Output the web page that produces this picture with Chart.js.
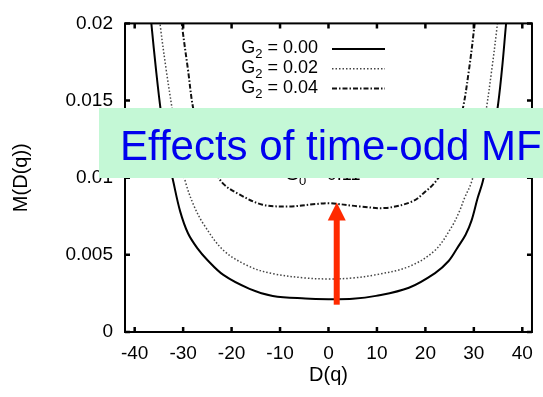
<!DOCTYPE html>
<html><head><meta charset="utf-8">
<script src="https://cdn.jsdelivr.net/npm/chart.js@4/dist/chart.umd.min.js"></script>
<style>html,body{margin:0;padding:0;background:#fff;}#wrap{width:543px;height:397px;}</style>
</head><body><div id="wrap"><canvas id="c" width="543" height="397"></canvas></div>
<script>
// ---- data ----
const xTicks = [-40, -30, -20, -10, 0, 10, 20, 30, 40];
const yTickValues = [0, 0.005, 0.01, 0.015, 0.02];
const yTickLabels = ['0', '0.005', '0.01', '0.015', '0.02'];
const g2Values = ['0.00', '0.02', '0.04'];

const g000X = [-37.0,-36.5,-35.6,-34.6,-33.4,-32.0,-30.6,-29.0,-27.0,-25.1,-21.7,-16.3,-11.5,-4.8,0,5,9.8,16.6,22,24.8,26.7,28.3,29.5,30.8,31.8,33.3,34.8,35.8,36.6,37.1];
const g000Y = [0.0215,0.0198,0.0170,0.0143,0.0118,0.0097,0.0078,0.0064,0.0054,0.0047,0.0037,0.0028,0.00234,0.00217,0.00213,0.00215,0.00234,0.00287,0.00382,0.0046,0.0055,0.0063,0.0072,0.0087,0.0097,0.0118,0.0143,0.0170,0.0198,0.0215];

const g002X = [-35.2,-34.7,-33.5,-32.2,-31.0,-29.5,-27.8,-25.8,-21.7,-16.3,-11.5,-4.8,0,5,9.8,16.6,22,25.4,27.0,28.1,29.5,31.1,32.5,33.7,34.8,35.3];
const g002Y = [0.0215,0.0198,0.0170,0.0143,0.0118,0.0097,0.0082,0.0070,0.0053,0.00424,0.00378,0.0035,0.00344,0.0035,0.00371,0.00424,0.0053,0.0068,0.0078,0.0087,0.0097,0.0118,0.0143,0.0170,0.0198,0.0215];

const g004X = [-30.7,-30.2,-29.0,-27.8,-25.5,-23.5,-21.7,-18.3,-13.6,-8.1,-2.7,0,6.4,11.8,17.3,20,22,23.8,25.3,27.6,29.0,30.1,30.6];
const g004Y = [0.0215,0.0198,0.0170,0.0143,0.0118,0.0105,0.0096,0.0089,0.00825,0.00814,0.00829,0.00835,0.00814,0.00804,0.00846,0.0091,0.0097,0.0106,0.0118,0.0143,0.0170,0.0198,0.0215];

const g0Label = '0.11';
const bannerText = 'Effects of time-odd MF';
const arrowX = 1.7, arrowFrom = 0.00177, arrowTo = 0.0084;

// ---- chart ----
const FONT = "'Liberation Sans', Arial, sans-serif";
const pts = (xs, ys) => xs.map((v, i) => ({x: v, y: ys[i]}));
const styles = [
  {borderColor: '#000', borderWidth: 2, borderDash: []},
  {borderColor: '#444', borderWidth: 1.5, borderDash: [1.5, 2]},
  {borderColor: '#111', borderWidth: 2, borderDash: [5, 2, 1.5, 2]}
];

const decor = {
  id: 'decor',
  afterDraw(chart) {
    const {ctx, chartArea: a, scales: {x, y}} = chart;
    ctx.save();
    // frame
    ctx.strokeStyle = '#000';
    ctx.lineWidth = 2;
    ctx.strokeRect(a.left, a.top, a.right - a.left, a.bottom - a.top);
    // inward ticks
    ctx.lineWidth = 2.5;
    ctx.beginPath();
    xTicks.forEach(v => {
      const px = x.getPixelForValue(v);
      ctx.moveTo(px, a.bottom); ctx.lineTo(px, a.bottom - 5);
      ctx.moveTo(px, a.top); ctx.lineTo(px, a.top + 5);
    });
    yTickValues.forEach(v => {
      const py = y.getPixelForValue(v);
      ctx.moveTo(a.left, py); ctx.lineTo(a.left + 5, py);
      ctx.moveTo(a.right, py); ctx.lineTo(a.right - 5, py);
    });
    ctx.stroke();

    // legend
    const textRight = 318, lineL = 332, lineR = 385;
    g2Values.forEach((val, i) => {
      const base = 53.3 + i * 19.7;
      ctx.fillStyle = '#000';
      ctx.textBaseline = 'alphabetic';
      ctx.textAlign = 'left';
      ctx.font = '18px ' + FONT;
      const rest = ' = ' + val;
      const wG = ctx.measureText('G').width;
      const wR = ctx.measureText(rest).width;
      ctx.font = '13px ' + FONT;
      const wS = ctx.measureText('2').width;
      let tx = textRight - wR - wS - wG;
      ctx.font = '18px ' + FONT;
      ctx.fillText('G', tx, base);
      ctx.font = '13px ' + FONT;
      ctx.fillText('2', tx + wG, base + 5);
      ctx.font = '18px ' + FONT;
      ctx.fillText(rest, tx + wG + wS, base);
      // sample line
      const st = styles[i];
      ctx.beginPath();
      ctx.strokeStyle = st.borderColor;
      ctx.lineWidth = st.borderWidth;
      ctx.setLineDash(st.borderDash);
      const ly = base - 4.3;
      ctx.moveTo(lineL, ly); ctx.lineTo(lineR, ly);
      ctx.stroke();
      ctx.setLineDash([]);
    });

    // partially hidden G0 label
    ctx.fillStyle = '#000';
    ctx.font = '18px ' + FONT;
    let gx = 285;
    ctx.fillText('G', gx, 180);
    gx += ctx.measureText('G').width;
    ctx.font = '13px ' + FONT;
    ctx.fillText('0', gx, 185);
    gx += ctx.measureText('0').width;
    ctx.font = '18px ' + FONT;
    ctx.fillText(' = ' + g0Label, gx, 180);

    // red arrow
    const ax = x.getPixelForValue(arrowX);
    const y0 = y.getPixelForValue(arrowFrom);
    const y1 = y.getPixelForValue(arrowTo);
    ctx.fillStyle = '#ff2a00';
    ctx.fillRect(ax - 3, y1 + 17, 6, y0 - (y1 + 17));
    ctx.beginPath();
    ctx.moveTo(ax, y1);
    ctx.lineTo(ax + 9, y1 + 18);
    ctx.lineTo(ax - 9, y1 + 18);
    ctx.closePath();
    ctx.fill();

    // banner
    ctx.fillStyle = 'rgb(196,248,214)';
    ctx.fillRect(99, 108, 444, 70);
    ctx.fillStyle = '#0000ee';
    ctx.font = '42px ' + FONT;
    ctx.textBaseline = 'alphabetic';
    ctx.fillText(bannerText, 120, 160);
    ctx.restore();
  }
};

new Chart(document.getElementById('c'), {
  type: 'scatter',
  data: {
    datasets: [
      Object.assign({label: 'G2 = ' + g2Values[0], data: pts(g000X, g000Y)}, styles[0]),
      Object.assign({label: 'G2 = ' + g2Values[1], data: pts(g002X, g002Y)}, styles[1]),
      Object.assign({label: 'G2 = ' + g2Values[2], data: pts(g004X, g004Y)}, styles[2])
    ].map(d => Object.assign(d, {showLine: true, pointRadius: 0, fill: false, tension: 0.35, clip: 0}))
  },
  options: {
    responsive: false,
    animation: false,
    layout: {padding: {top: 16, right: 6, left: 0, bottom: 0}},
    plugins: {legend: {display: false}, tooltip: {enabled: false}},
    scales: {
      x: {
        type: 'linear', min: -42, max: 42,
        grid: {display: false, drawTicks: false},
        border: {display: false},
        afterBuildTicks: s => { s.ticks = xTicks.map(v => ({value: v})); },
        afterFit: s => { s.height = 65; },
        ticks: {autoSkip: false, maxRotation: 0, padding: 10, color: '#000', font: {family: FONT, size: 19}},
        title: {display: true, text: 'D(q)', color: '#000', font: {family: FONT, size: 20}, padding: {top: 0, bottom: 10}}
      },
      y: {
        type: 'linear', min: 0, max: 0.02,
        grid: {display: false, drawTicks: false},
        border: {display: false},
        afterBuildTicks: s => { s.ticks = yTickValues.map(v => ({value: v})); },
        afterFit: s => { s.width = 125; },
        ticks: {autoSkip: false, padding: 12, color: '#000', font: {family: FONT, size: 19},
          callback: (v, i) => yTickLabels[i]},
        title: {display: true, text: 'M(D(q))', color: '#000', font: {family: FONT, size: 20}, padding: {top: 9, bottom: 0}}
      }
    }
  },
  plugins: [decor]
});
</script>
</body></html>
